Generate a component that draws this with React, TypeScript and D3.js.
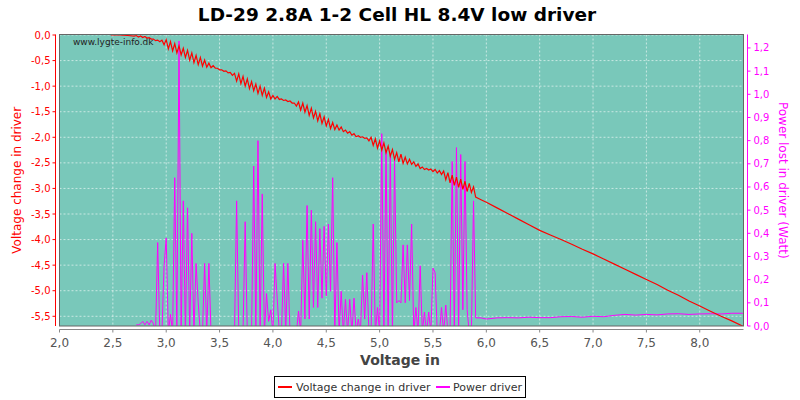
import React from 'react'
import * as d3 from 'd3'

// sampled input voltage (shared by both series)
const inputVoltage = [
  2.48, 2.56, 2.64, 2.70,
  2.72, 2.74, 2.76, 2.78, 2.80, 2.82, 2.84, 2.86, 2.88, 2.90,
  2.92, 2.94, 2.96, 2.98, 3.00, 3.02, 3.04, 3.06, 3.08, 3.10,
  3.12, 3.14, 3.16, 3.18, 3.20, 3.22, 3.24, 3.26, 3.28, 3.30,
  3.32, 3.34, 3.36, 3.38, 3.40, 3.42, 3.44, 3.46, 3.48, 3.50,
  3.52, 3.54, 3.56, 3.58, 3.60, 3.62, 3.64, 3.66, 3.68, 3.70,
  3.72, 3.74, 3.76, 3.78, 3.80, 3.82, 3.84, 3.86, 3.88, 3.90,
  3.92, 3.94, 3.96, 3.98, 4.00, 4.02, 4.04, 4.06, 4.08, 4.10,
  4.12, 4.14, 4.16, 4.18, 4.20, 4.22, 4.24, 4.26, 4.28, 4.30,
  4.32, 4.34, 4.36, 4.38, 4.40, 4.42, 4.44, 4.46, 4.48, 4.50,
  4.52, 4.54, 4.56, 4.58, 4.60, 4.62, 4.64, 4.66, 4.68, 4.70,
  4.72, 4.74, 4.76, 4.78, 4.80, 4.82, 4.84, 4.86, 4.88, 4.90,
  4.92, 4.94, 4.96, 4.98, 5.00, 5.02, 5.04, 5.06, 5.08, 5.10,
  5.12, 5.14, 5.16, 5.18, 5.20, 5.22, 5.24, 5.26, 5.28, 5.30,
  5.32, 5.34, 5.36, 5.38, 5.40, 5.42, 5.44, 5.46, 5.48, 5.50,
  5.52, 5.54, 5.56, 5.58, 5.60, 5.62, 5.64, 5.66, 5.68, 5.70,
  5.72, 5.74, 5.76, 5.78, 5.80, 5.82, 5.84, 5.86, 5.88, 5.90,
  5.95, 6.0, 6.1, 6.2, 6.3, 6.4, 6.5, 6.6, 6.7, 6.8, 6.9, 7.0, 7.1,
  7.2, 7.3, 7.4, 7.5, 7.6, 7.7, 7.8, 7.9, 8.0, 8.1, 8.2, 8.3, 8.41,
]

const voltageChange = [
  0.0, 0.0, -0.01, -0.02,
  -0.01, -0.04, -0.02, -0.05, -0.03, -0.06, -0.05, -0.08, -0.08, -0.11,
  -0.10, -0.13, -0.10, -0.19, -0.09, -0.27, -0.13, -0.31, -0.17, -0.35,
  -0.21, -0.39, -0.26, -0.44, -0.30, -0.49, -0.35, -0.54, -0.40, -0.58,
  -0.44, -0.61, -0.49, -0.63, -0.55, -0.64, -0.60, -0.65, -0.65, -0.68,
  -0.68, -0.71, -0.70, -0.74, -0.73, -0.79, -0.75, -0.90, -0.76, -0.95,
  -0.81, -1.00, -0.86, -1.05, -0.91, -1.09, -0.96, -1.14, -1.00, -1.18,
  -1.04, -1.22, -1.11, -1.25, -1.18, -1.25, -1.20, -1.26, -1.25, -1.28,
  -1.27, -1.30, -1.29, -1.33, -1.33, -1.39, -1.31, -1.47, -1.33, -1.51,
  -1.38, -1.57, -1.43, -1.62, -1.49, -1.68, -1.54, -1.73, -1.60, -1.78,
  -1.65, -1.83, -1.71, -1.85, -1.76, -1.86, -1.80, -1.89, -1.86, -1.92,
  -1.89, -1.96, -1.93, -1.99, -1.97, -2.00, -1.99, -2.02, -2.01, -2.07,
  -2.00, -2.16, -2.03, -2.21, -2.07, -2.25, -2.11, -2.30, -2.17, -2.37,
  -2.24, -2.43, -2.30, -2.48, -2.33, -2.51, -2.39, -2.52, -2.43, -2.53,
  -2.48, -2.57, -2.52, -2.61, -2.58, -2.63, -2.61, -2.64, -2.62, -2.67,
  -2.63, -2.70, -2.65, -2.73, -2.66, -2.83, -2.69, -2.89, -2.74, -2.94,
  -2.78, -2.98, -2.82, -3.02, -2.86, -3.06, -2.90, -3.08, -2.97, -3.17,
  -3.22, -3.27, -3.38, -3.49, -3.60, -3.71, -3.82, -3.91, -4.00, -4.09, -4.19, -4.28, -4.38,
  -4.48, -4.58, -4.68, -4.78, -4.88, -4.99, -5.09, -5.20, -5.30, -5.40, -5.50, -5.59, -5.70,
]

const powerDriver: (number | null)[] = [
  null, null, null, null,
  0.005, 0.005, 0.01, 0.02, 0.005, 0.02, 0.005, 0.025, 0.01, -0.03,
  0.36, -0.03, -0.03, 0.26, 0.38, -0.03, 0.05, -0.03, 0.64, -0.03,
  1.23, -0.03, 0.54, -0.03, 0.51, -0.03, 0.40, -0.03, 0.27, 0.10,
  -0.03, -0.03, 0.27, -0.03, 0.27, -0.03, -0.03, -0.03, -0.03, -0.03,
  -0.03, -0.03, -0.03, -0.03, -0.03, -0.03, -0.03, 0.54, -0.03, -0.03,
  -0.03, 0.45, -0.03, -0.03, -0.03, 0.69, -0.03, 0.80, -0.03, 0.57,
  -0.03, 0.14, 0.02, 0.07, -0.03, 0.27, 0.12, -0.03, -0.03, 0.27,
  -0.03, 0.27, -0.03, -0.03, -0.03, -0.03, 0.065, -0.03, 0.37, 0.03,
  0.52, 0.03, 0.50, 0.08, 0.45, 0.08, 0.42, 0.12, 0.43, 0.13,
  0.44, 0.15, 0.64, -0.03, 0.36, -0.03, 0.15, -0.03, 0.115, -0.03,
  0.115, -0.03, 0.12, -0.03, 0.03, -0.03, 0.22, 0.03, 0.23, -0.03,
  -0.03, 0.44, -0.03, 0.08, -0.03, 0.83, -0.03, 0.76, -0.03, 0.74,
  -0.03, 0.72, 0.10, 0.11, 0.10, 0.35, 0.10, 0.35, 0.11, 0.44,
  -0.03, 0.08, -0.03, 0.26, -0.03, 0.06, -0.03, 0.06, -0.03, 0.25,
  0.23, -0.03, -0.03, 0.08, -0.03, 0.09, -0.03, -0.03, 0.71, -0.03,
  0.77, -0.03, 0.74, 0.07, 0.71, 0.07, -0.03, -0.03, 0.54, 0.035,
  0.035, 0.03, 0.035, 0.036, 0.035, 0.038, 0.036, 0.036, 0.040, 0.041, 0.038, 0.042, 0.040,
  0.046, 0.050, 0.047, 0.050, 0.048, 0.052, 0.053, 0.050, 0.052, 0.053, 0.052, 0.055, 0.055,
]

const xTicks = [2.0, 2.5, 3.0, 3.5, 4.0, 4.5, 5.0, 5.5, 6.0, 6.5, 7.0, 7.5, 8.0]
const leftTicks = [0, -0.5, -1, -1.5, -2, -2.5, -3, -3.5, -4, -4.5, -5, -5.5]
const rightTicks = [0, 0.1, 0.2, 0.3, 0.4, 0.5, 0.6, 0.7, 0.8, 0.9, 1.0, 1.1, 1.2]

const W = 800
const H = 400
const plot = { left: 59.5, right: 743.5, top: 34.5, bottom: 326 }
const RED = '#ff0000'
const MAG = '#ff00ff'
const FONT = 'DejaVu Sans, sans-serif'

const fmt = (v: number) => d3.format('.1f')(v).replace('.', ',').replace('−', '-')

const App = () => {
  const x = d3.scaleLinear().domain([2, 8.41]).range([plot.left, plot.right])
  const yL = d3.scaleLinear().domain([-5.69, 0.01]).range([plot.bottom, plot.top])
  const yR = d3.scaleLinear().domain([0, 1.258]).range([plot.bottom, plot.top])

  const idx = d3.range(inputVoltage.length)
  const redLine = d3.line<number>()
    .x(i => x(inputVoltage[i]))
    .y(i => yL(voltageChange[i]))
  const magLine = d3.line<number>()
    .defined(i => powerDriver[i] !== null)
    .x(i => x(inputVoltage[i]))
    .y(i => yR(powerDriver[i] as number))

  const axisY = plot.bottom + 3.5
  const leftAxisX = plot.left - 4
  const rightAxisX = plot.right + 4

  return (
    <svg width={W} height={H} style={{ display: 'block', position: 'absolute', left: 0, top: 0 }}>
      <rect x={0} y={0} width={W} height={H} fill="#ffffff" />
      <text x={397} y={21} textAnchor="middle" fontFamily={FONT} fontWeight="bold" fontSize={18.5} fill="#000">
        LD-29 2.8A 1-2 Cell HL 8.4V low driver
      </text>

      <defs>
        <clipPath id="plotClip">
          <rect x={plot.left} y={plot.top} width={plot.right - plot.left} height={plot.bottom - plot.top} />
        </clipPath>
      </defs>

      <rect x={plot.left} y={plot.top} width={plot.right - plot.left} height={plot.bottom - plot.top} fill="#79c8ba" />

      {xTicks.map(t => (
        <line key={'gx' + t} x1={x(t)} x2={x(t)} y1={plot.top} y2={plot.bottom}
          stroke="#ffffff" strokeOpacity={0.75} strokeWidth={0.8} strokeDasharray="2,2" />
      ))}
      {leftTicks.map(t => (
        <line key={'gy' + t} x1={plot.left} x2={plot.right} y1={yL(t)} y2={yL(t)}
          stroke="#ffffff" strokeOpacity={0.75} strokeWidth={0.8} strokeDasharray="2,2" />
      ))}

      <text x={73} y={45} fontFamily={FONT} fontSize={9} fill="#222">www.lygte-info.dk</text>

      <g clipPath="url(#plotClip)">
        <path d={magLine(idx) || ''} fill="none" stroke={MAG} strokeWidth={1} />
        <path d={redLine(idx) || ''} fill="none" stroke={RED} strokeWidth={1.2} />
      </g>

      <rect x={plot.left} y={plot.top} width={plot.right - plot.left} height={plot.bottom - plot.top}
        fill="none" stroke="#666" strokeWidth={1} />

      {/* x axis */}
      <line x1={plot.left} x2={plot.right} y1={axisY} y2={axisY} stroke="#888" strokeWidth={1} />
      {xTicks.map(t => (
        <g key={'xt' + t}>
          <line x1={x(t)} x2={x(t)} y1={axisY} y2={axisY + 3} stroke="#888" />
          <text x={x(t)} y={axisY + 17} textAnchor="middle" fontFamily={FONT} fontSize={12} fill="#555">{fmt(t)}</text>
        </g>
      ))}
      <text x={400} y={365} textAnchor="middle" fontFamily={FONT} fontWeight="bold" fontSize={14} fill="#444">Voltage in</text>

      {/* left axis */}
      <line x1={leftAxisX} x2={leftAxisX} y1={plot.top} y2={plot.bottom} stroke={RED} strokeWidth={1} />
      {leftTicks.map(t => (
        <g key={'lt' + t}>
          <line x1={leftAxisX - 3} x2={leftAxisX} y1={yL(t)} y2={yL(t)} stroke={RED} />
          <text x={leftAxisX - 5} y={yL(t) + 3.5} textAnchor="end" fontFamily={FONT} fontSize={10} fill={RED}>{fmt(t)}</text>
        </g>
      ))}
      <text transform={`translate(21,${(plot.top + plot.bottom) / 2}) rotate(-90)`} textAnchor="middle"
        fontFamily={FONT} fontSize={12} fill={RED}>Voltage change in driver</text>

      {/* right axis */}
      <line x1={rightAxisX} x2={rightAxisX} y1={plot.top} y2={plot.bottom} stroke={MAG} strokeWidth={1} />
      {rightTicks.map(t => (
        <g key={'rt' + t}>
          <line x1={rightAxisX} x2={rightAxisX + 3} y1={yR(t)} y2={yR(t)} stroke={MAG} />
          <text x={rightAxisX + 6} y={yR(t) + 3.5} fontFamily={FONT} fontSize={10} fill={MAG}>{fmt(t)}</text>
        </g>
      ))}
      <text transform={`translate(779,${(plot.top + plot.bottom) / 2}) rotate(90)`} textAnchor="middle"
        fontFamily={FONT} fontSize={12} fill={MAG}>Power lost in driver (Watt)</text>

      {/* legend */}
      <rect x={274.5} y={376.5} width={251} height={21} fill="#fff" stroke="#000" strokeWidth={1} />
      <line x1={278} x2={292} y1={387} y2={387} stroke={RED} strokeWidth={2} />
      <text x={296} y={391} fontFamily={FONT} fontSize={11} fill="#333">Voltage change in driver</text>
      <line x1={436} x2={450} y1={387} y2={387} stroke={MAG} strokeWidth={2} />
      <text x={453} y={391} fontFamily={FONT} fontSize={11} fill="#333">Power driver</text>
    </svg>
  )
}

export default App
